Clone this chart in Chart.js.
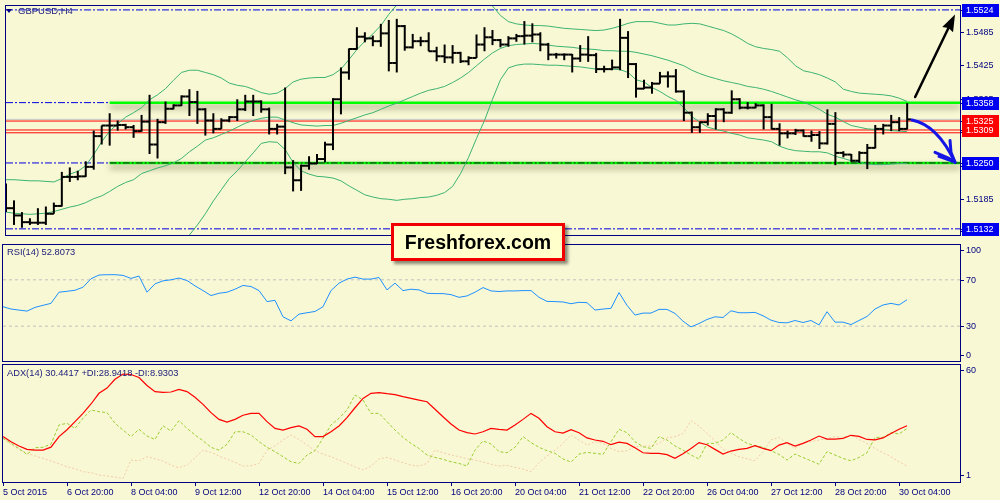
<!DOCTYPE html>
<html><head><meta charset="utf-8">
<script src="https://cdn.jsdelivr.net/npm/chart.js@4.4.1/dist/chart.umd.min.js"></script>
<style>
html,body{margin:0;padding:0;}
body{width:1000px;height:500px;overflow:hidden;position:relative;background:#f8f8d4;font-family:"Liberation Sans",Arial,sans-serif;}
canvas{position:absolute;left:0;}
.txt{position:absolute;color:#1a1a7a;white-space:nowrap;line-height:1;}
#tri{position:absolute;left:6px;top:9px;width:0;height:0;border-left:3.5px solid transparent;border-right:3.5px solid transparent;border-top:4px solid #000080;}
#brand{position:absolute;left:391px;top:223px;width:168px;height:32px;border:3px solid #f00000;background:#ffffcc;box-shadow:3px 3px 3px rgba(0,0,0,0.45);font:bold 19.5px "Liberation Sans",Arial,sans-serif;color:#000;text-align:center;line-height:32px;}
</style></head><body>
<canvas id="cMain" width="1000" height="241" style="top:0"></canvas>
<canvas id="cRsi" width="1000" height="121" style="top:242px"></canvas>
<canvas id="cAdx" width="1000" height="137" style="top:363px"></canvas>
<div id="tri"></div>
<div class="txt" style="left:18px;top:6px;font-size:9.5px;">GBPUSD,H4</div>
<div class="txt" style="left:7px;top:248px;font-size:9.3px;">RSI(14) 52.8073</div>
<div class="txt" style="left:7px;top:369px;font-size:9.3px;">ADX(14) 30.4417 +DI:28.9418 -DI:8.9303</div>
<div id="brand">Freshforex.com</div>
<script>
// ---------------- DATA ----------------
const tickBars = [0,8,16,24,32,40,48,56,64,72,80,88,96,104,112];
const tickLabels = ['5 Oct 2015','6 Oct 20:00','8 Oct 04:00','9 Oct 12:00','12 Oct 20:00','14 Oct 04:00','15 Oct 12:00','16 Oct 20:00','20 Oct 04:00','21 Oct 12:00','22 Oct 20:00','26 Oct 04:00','27 Oct 12:00','28 Oct 20:00','30 Oct 04:00'];

const opens = [1.5190,1.5169,1.5156,1.5144,1.5143,1.5143,1.5159,1.5173,1.5225,1.5225,
1.5226,1.5243,1.5298,1.5317,1.5317,1.5318,1.5314,1.5307,1.5324,1.5283,
1.5323,1.5347,1.5353,1.5369,1.5359,1.5346,1.5326,1.5311,1.5326,1.5332,
1.5346,1.5360,1.5360,1.5346,1.5311,1.5315,1.5242,1.5219,1.5245,1.5249,
1.5257,1.5283,1.5364,1.5412,1.5454,1.5476,1.5473,1.5468,1.5482,1.5429,
1.5495,1.5457,1.5468,1.5468,1.5450,1.5441,1.5439,1.5447,1.5432,1.5438,
1.5462,1.5475,1.5470,1.5462,1.5473,1.5477,1.5478,1.5480,1.5462,1.5444,
1.5444,1.5444,1.5437,1.5444,1.5443,1.5418,1.5418,1.5421,1.5474,1.5427,
1.5383,1.5385,1.5392,1.5405,1.5405,1.5378,1.5340,1.5314,1.5323,1.5334,
1.5346,1.5340,1.5364,1.5349,1.5349,1.5353,1.5332,1.5311,1.5303,1.5303,
1.5308,1.5298,1.5300,1.5285,1.5320,1.5268,1.5265,1.5254,1.5268,1.5277,
1.5311,1.5317,1.5323,1.5311];
const highs = [1.5213,1.5183,1.5162,1.5151,1.5169,1.5172,1.5179,1.5234,1.5242,1.5236,
1.5253,1.5308,1.5317,1.5339,1.5326,1.5320,1.5318,1.5336,1.5372,1.5329,
1.5360,1.5355,1.5371,1.5382,1.5379,1.5348,1.5339,1.5330,1.5334,1.5364,
1.5372,1.5372,1.5362,1.5349,1.5320,1.5385,1.5255,1.5247,1.5262,1.5266,
1.5288,1.5366,1.5421,1.5455,1.5493,1.5484,1.5478,1.5499,1.5506,1.5508,
1.5497,1.5481,1.5476,1.5484,1.5458,1.5462,1.5461,1.5449,1.5441,1.5480,
1.5493,1.5488,1.5472,1.5477,1.5481,1.5504,1.5500,1.5484,1.5465,1.5447,
1.5446,1.5445,1.5461,1.5477,1.5447,1.5424,1.5435,1.5508,1.5486,1.5429,
1.5399,1.5395,1.5413,1.5414,1.5418,1.5380,1.5342,1.5324,1.5339,1.5348,
1.5348,1.5380,1.5366,1.5359,1.5357,1.5355,1.5356,1.5321,1.5308,1.5311,
1.5310,1.5308,1.5307,1.5346,1.5341,1.5271,1.5266,1.5271,1.5284,1.5318,
1.5320,1.5336,1.5332,1.5357];
const lows = [1.5162,1.5139,1.5134,1.5139,1.5139,1.5139,1.5159,1.5172,1.5216,1.5219,
1.5225,1.5238,1.5283,1.5281,1.5308,1.5310,1.5295,1.5306,1.5266,1.5258,
1.5320,1.5346,1.5352,1.5334,1.5320,1.5299,1.5303,1.5311,1.5323,1.5325,
1.5343,1.5334,1.5340,1.5301,1.5301,1.5230,1.5199,1.5200,1.5238,1.5248,
1.5251,1.5273,1.5337,1.5399,1.5453,1.5466,1.5459,1.5458,1.5414,1.5412,
1.5451,1.5455,1.5459,1.5450,1.5432,1.5429,1.5428,1.5429,1.5425,1.5438,
1.5450,1.5461,1.5457,1.5458,1.5467,1.5462,1.5466,1.5450,1.5434,1.5437,
1.5434,1.5412,1.5431,1.5431,1.5411,1.5412,1.5416,1.5416,1.5402,1.5367,
1.5382,1.5374,1.5392,1.5385,1.5376,1.5325,1.5304,1.5304,1.5317,1.5310,
1.5323,1.5338,1.5346,1.5346,1.5348,1.5310,1.5310,1.5281,1.5294,1.5300,
1.5297,1.5288,1.5275,1.5283,1.5246,1.5260,1.5252,1.5250,1.5239,1.5276,
1.5301,1.5307,1.5307,1.5310];
const closes = [1.5169,1.5156,1.5144,1.5143,1.5143,1.5159,1.5173,1.5225,1.5225,1.5226,
1.5243,1.5298,1.5317,1.5317,1.5318,1.5314,1.5307,1.5324,1.5283,1.5323,
1.5347,1.5353,1.5369,1.5359,1.5346,1.5326,1.5311,1.5326,1.5332,1.5346,
1.5360,1.5360,1.5346,1.5311,1.5315,1.5242,1.5219,1.5245,1.5249,1.5257,
1.5283,1.5364,1.5412,1.5454,1.5476,1.5473,1.5468,1.5482,1.5429,1.5495,
1.5457,1.5468,1.5468,1.5450,1.5441,1.5439,1.5447,1.5432,1.5438,1.5462,
1.5475,1.5470,1.5462,1.5473,1.5477,1.5478,1.5480,1.5462,1.5444,1.5444,
1.5444,1.5437,1.5444,1.5443,1.5418,1.5418,1.5421,1.5474,1.5427,1.5383,
1.5385,1.5392,1.5405,1.5405,1.5378,1.5340,1.5314,1.5323,1.5334,1.5346,
1.5340,1.5364,1.5349,1.5349,1.5353,1.5332,1.5311,1.5303,1.5303,1.5308,
1.5298,1.5300,1.5285,1.5320,1.5268,1.5265,1.5254,1.5268,1.5277,1.5311,
1.5317,1.5323,1.5311,1.5328];

const bbUpper = [1.5220,1.5220,1.5219,1.5218,1.5218,1.5217,1.5216,1.5222,1.5230,1.5235,
1.5245,1.5265,1.5288,1.5307,1.5320,1.5332,1.5340,1.5349,1.5363,1.5372,
1.5383,1.5398,1.5412,1.5416,1.5416,1.5412,1.5408,1.5402,1.5393,1.5389,
1.5387,1.5382,1.5376,1.5373,1.5375,1.5383,1.5395,1.5400,1.5402,1.5403,
1.5403,1.5408,1.5418,1.5435,1.5453,1.5468,1.5481,1.5496,1.5516,1.5533,
1.5542,1.5551,1.5562,1.5572,1.5575,1.5578,1.5581,1.5574,1.5565,1.5553,
1.5545,1.5531,1.5514,1.5503,1.5499,1.5497,1.5496,1.5496,1.5495,1.5493,
1.5491,1.5490,1.5489,1.5488,1.5487,1.5488,1.5491,1.5495,1.5500,1.5503,
1.5503,1.5503,1.5500,1.5497,1.5497,1.5499,1.5500,1.5499,1.5495,1.5491,
1.5487,1.5481,1.5473,1.5464,1.5458,1.5455,1.5453,1.5450,1.5438,1.5424,
1.5415,1.5412,1.5408,1.5402,1.5395,1.5382,1.5378,1.5375,1.5374,1.5373,
1.5372,1.5370,1.5366,1.5360];
const bbMiddle = [1.5162,1.5160,1.5159,1.5158,1.5159,1.5160,1.5163,1.5167,1.5171,1.5174,
1.5179,1.5186,1.5191,1.5199,1.5208,1.5215,1.5220,1.5231,1.5236,1.5241,
1.5245,1.5250,1.5258,1.5270,1.5280,1.5291,1.5295,1.5301,1.5307,1.5314,
1.5321,1.5326,1.5330,1.5332,1.5332,1.5327,1.5322,1.5318,1.5317,1.5316,
1.5317,1.5317,1.5321,1.5326,1.5331,1.5336,1.5340,1.5346,1.5352,1.5357,
1.5363,1.5369,1.5375,1.5380,1.5383,1.5387,1.5394,1.5402,1.5412,1.5424,
1.5436,1.5447,1.5455,1.5460,1.5462,1.5463,1.5464,1.5463,1.5461,1.5459,
1.5458,1.5457,1.5455,1.5454,1.5453,1.5451,1.5451,1.5450,1.5450,1.5448,
1.5445,1.5442,1.5438,1.5434,1.5429,1.5424,1.5416,1.5410,1.5405,1.5401,
1.5397,1.5394,1.5391,1.5387,1.5385,1.5382,1.5378,1.5373,1.5368,1.5363,
1.5359,1.5353,1.5346,1.5337,1.5332,1.5324,1.5317,1.5314,1.5311,1.5310,
1.5310,1.5308,1.5307,1.5306];
const bbLower = [1.5103,1.5103,1.5101,1.5100,1.5101,1.5104,1.5109,1.5113,1.5113,1.5113,
1.5113,1.5106,1.5095,1.5091,1.5095,1.5098,1.5101,1.5113,1.5110,1.5111,
1.5107,1.5102,1.5104,1.5121,1.5139,1.5159,1.5182,1.5202,1.5222,1.5236,
1.5252,1.5268,1.5285,1.5288,1.5287,1.5274,1.5251,1.5236,1.5230,1.5226,
1.5225,1.5223,1.5218,1.5209,1.5201,1.5193,1.5189,1.5186,1.5185,1.5183,
1.5185,1.5186,1.5188,1.5189,1.5192,1.5197,1.5208,1.5231,1.5260,1.5294,
1.5326,1.5364,1.5399,1.5420,1.5425,1.5427,1.5427,1.5426,1.5425,1.5425,
1.5424,1.5423,1.5422,1.5420,1.5418,1.5418,1.5418,1.5417,1.5412,1.5399,
1.5395,1.5385,1.5378,1.5369,1.5362,1.5349,1.5333,1.5323,1.5314,1.5310,
1.5307,1.5303,1.5300,1.5295,1.5293,1.5291,1.5288,1.5280,1.5275,1.5272,
1.5271,1.5270,1.5270,1.5268,1.5262,1.5258,1.5254,1.5251,1.5248,1.5247,
1.5247,1.5248,1.5249,1.5249];

const rsi = [46.8,44.8,43.9,43.0,46.2,48.0,49.7,59.3,60.1,61.0,
63.6,70.9,74.1,74.4,74.4,73.8,71.2,73.2,59.3,66.5,
69.1,70.0,71.5,69.4,64.8,60.7,56.4,58.4,59.3,61.9,
65.1,64.2,60.7,51.2,52.3,38.1,34.6,40.4,41.6,42.7,
46.8,60.7,67.1,70.6,72.3,70.6,70.6,72.0,61.3,67.1,
60.7,61.9,61.3,58.4,58.1,58.1,57.2,54.9,56.1,59.3,
63.3,60.4,59.9,60.4,60.4,60.7,60.7,54.9,51.4,51.2,
50.9,49.4,50.6,50.3,43.9,44.8,45.4,59.0,48.0,39.6,
41.3,41.3,44.5,44.5,41.0,34.3,29.4,32.3,35.8,38.1,
37.5,43.3,41.6,41.6,41.9,39.0,35.2,33.2,32.9,34.9,
33.2,34.9,31.1,42.5,33.5,33.5,31.4,34.9,38.4,44.8,
48.3,49.7,48.3,52.8];
const rsiLevels = [70, 30];

const adx = [24.6,21.9,19.6,17.8,17.4,17.4,19.0,24.6,28.3,32.6,
37.0,42.0,47.7,50.5,55.2,58.0,57.7,56.1,51.9,48.6,
48.2,48.4,49.8,48.6,45.6,41.8,37.4,33.8,32.4,33.8,
36.0,37.0,37.0,32.6,29.0,28.1,29.4,30.3,28.5,24.6,
24.6,27.2,30.3,34.7,40.0,45.0,47.7,48.1,47.5,47.0,
45.9,45.0,44.1,43.2,39.2,35.2,31.3,28.1,26.7,26.0,
27.2,29.0,28.5,28.1,30.8,33.8,37.0,34.4,29.9,27.2,
26.5,28.3,26.7,23.9,22.8,22.1,20.3,21.7,21.0,18.7,
16.0,15.7,15.7,15.0,13.0,15.5,18.3,21.4,20.3,17.8,
15.3,16.9,17.8,18.3,19.8,18.3,17.1,20.1,21.4,19.6,
21.0,22.8,24.9,23.3,23.3,23.7,25.3,24.7,23.1,22.9,
23.9,26.3,28.5,30.44];
const plusDI = [23.7,21.0,18.2,15.1,18.7,18.9,20.6,30.8,31.7,29.0,
34.4,38.8,37.9,37.4,31.7,28.1,24.6,28.5,24.9,23.1,
30.4,27.6,33.1,29.0,25.5,22.4,18.9,17.4,20.5,27.2,
27.2,25.5,21.9,18.9,16.6,13.9,11.2,10.3,14.8,17.1,
23.7,30.8,34.4,38.8,46.8,44.1,37.0,37.0,32.6,28.1,
24.2,21.0,18.3,14.8,13.5,12.5,11.2,10.3,8.9,17.4,
22.3,20.7,16.6,16.0,18.9,24.6,21.4,18.9,17.1,15.7,
12.7,11.0,15.3,16.2,15.7,15.1,21.9,28.5,26.7,21.9,
19.2,18.3,24.6,22.8,19.6,17.4,14.8,12.7,21.0,21.0,
22.8,26.7,23.7,21.0,19.8,18.9,17.1,15.1,12.1,15.3,
13.5,11.7,9.9,16.6,14.8,13.0,11.7,13.5,16.0,24.2,
24.2,26.7,26.0,28.94];
const minusDI = [23.7,20.5,17.8,15.7,14.3,13.0,11.6,10.1,8.5,7.5,
5.9,5.4,4.1,3.6,3.0,2.3,12.1,11.7,13.9,12.8,
11.6,9.4,8.0,9.4,13.3,17.4,16.2,14.3,12.5,10.9,
8.9,9.1,10.3,17.4,19.6,22.8,25.5,23.1,20.1,17.1,
15.3,13.9,12.1,10.3,8.5,6.8,8.9,12.7,13.5,12.1,
10.7,9.4,8.9,10.3,17.4,16.0,14.8,13.9,12.8,12.1,
11.0,9.9,8.9,9.3,8.2,7.3,5.9,10.7,14.3,17.4,
21.0,25.5,22.8,20.1,21.9,21.0,18.3,16.6,17.1,19.2,
19.6,19.6,21.0,23.9,24.6,26.3,33.1,30.3,26.3,22.4,
17.8,15.7,13.9,12.8,11.7,16.6,22.8,24.2,21.0,18.3,
21.0,21.9,22.8,23.5,24.6,24.2,25.5,23.1,21.0,18.3,
16.0,13.9,11.2,8.93];

// horizontal levels (price)
const blueLevels = [1.5524, 1.5358, 1.5250, 1.5132];
const greenLevels = [1.5358, 1.5250];
const greenStartBar = 13;
const redLevels = [1.5325, 1.5309, 1.5304];
const plainPriceLabels = [1.5485, 1.5425, 1.5365, 1.5305, 1.5245, 1.5185, 1.5125];
const bluePriceLabels = [1.5524, 1.5358, 1.5250, 1.5132];
const redPriceLabels = [1.5325, 1.5309];
const rsiAxisLabels = [100, 70, 30, 0];
const adxAxisLabels = [60, 1];

// annotation arrows (data space)
const arrowUp = {from:{x:114, y:1.5368}, to:{x:119, y:1.5516}};
const arrowDown = {from:{x:113.6, y:1.5327}, ctrl:{x:116.8, y:1.5318}, to:{x:119.0, y:1.5251}};

// ---------------- LAYOUT / STYLE ----------------
const X_MIN = 0, X_MAX = 119.625;
const NAVY = '#000080';
const AX_FONT = '9px "Liberation Sans", Arial, sans-serif';
const pts = arr => arr.map((v, i) => ({x: i, y: v}));
const hline = (v, x0 = X_MIN, x1 = X_MAX) => [{x: x0, y: v}, {x: x1, y: v}];
const rightAxis = (min, max) => ({type: 'linear', position: 'right', min, max,
  ticks: {display: false}, grid: {display: false}, border: {display: false},
  afterFit: s => { s.width = 40; }});
const hiddenX = {type: 'linear', min: X_MIN, max: X_MAX, display: false, offset: false};

const framePlugin = {id: 'frame', afterDraw(chart) {
  const {ctx, chartArea: a} = chart;
  ctx.save(); ctx.strokeStyle = NAVY; ctx.lineWidth = 1;
  ctx.strokeRect(a.left - 0.5, a.top - 0.5, a.right - a.left + 1, a.bottom - a.top + 1);
  ctx.restore();
}};
const axisLabelPlugin = {id: 'axisLabels', afterDraw(chart, args, opts) {
  const {ctx, chartArea: a} = chart; const s = chart.scales.y;
  const items = (opts.items || []).map(it => {
    let y = s.getPixelForValue(it.v);
    y = Math.round(Math.min(Math.max(y, a.top + (opts.padTop || 0)), a.bottom - (opts.padBottom || 0)));
    return Object.assign({y}, it);
  });
  ctx.save(); ctx.font = AX_FONT; ctx.textBaseline = 'middle'; ctx.textAlign = 'left';
  ctx.strokeStyle = NAVY; ctx.lineWidth = 1;
  // pass 1: ticks + plain labels
  for (const it of items) {
    ctx.beginPath(); ctx.moveTo(a.right, it.y + 0.5); ctx.lineTo(a.right + 4, it.y + 0.5); ctx.stroke();
    if (!it.bg) { ctx.fillStyle = NAVY; ctx.fillText(it.text, a.right + 6, it.y + 1); }
  }
  // pass 2: label boxes
  for (const it of items) if (it.bg) { ctx.fillStyle = it.bg; ctx.fillRect(a.right + 2, it.y - 6, 37, 13); }
  // pass 3: box texts
  ctx.fillStyle = '#ffffff';
  for (const it of items) if (it.bg) ctx.fillText(it.text, a.right + 6, it.y + 1);
  ctx.restore();
}};
const shadowPlugin = {id: 'shadow',
  beforeDatasetDraw(chart, args) { const ds = chart.data.datasets[args.index];
    if (ds.shadow) { const c = chart.ctx; c.save(); c.shadowColor = 'rgba(40,40,0,0.55)'; c.shadowBlur = 6; c.shadowOffsetY = 4; } },
  afterDatasetDraw(chart, args) { if (chart.data.datasets[args.index].shadow) chart.ctx.restore(); }
};
const arrowPlugin = {id: 'arrows', afterDatasetsDraw(chart) {
  const {ctx} = chart; const xs = chart.scales.x, ys = chart.scales.y;
  const P = p => [xs.getPixelForValue(p.x), ys.getPixelForValue(p.y)];
  ctx.save();
  const [x0, y0] = P(arrowUp.from), [x1, y1] = P(arrowUp.to);
  const ang = Math.atan2(y1 - y0, x1 - x0);
  const hl = 17, hw = 6;
  const bx = x1 - hl * Math.cos(ang), by = y1 - hl * Math.sin(ang);
  ctx.strokeStyle = '#000'; ctx.fillStyle = '#000'; ctx.lineWidth = 2.5; ctx.lineCap = 'round';
  ctx.beginPath(); ctx.moveTo(x0, y0); ctx.lineTo(bx + 3 * Math.cos(ang), by + 3 * Math.sin(ang)); ctx.stroke();
  ctx.beginPath(); ctx.moveTo(x1, y1);
  ctx.lineTo(bx + hw * Math.sin(ang), by - hw * Math.cos(ang));
  ctx.lineTo(bx + 2 * Math.cos(ang), by + 2 * Math.sin(ang));
  ctx.lineTo(bx - hw * Math.sin(ang), by + hw * Math.cos(ang));
  ctx.closePath(); ctx.fill();
  const [a0, b0] = P(arrowDown.from), [ac, bc] = P(arrowDown.ctrl), [a1, b1] = P(arrowDown.to);
  ctx.strokeStyle = '#1515e6'; ctx.lineWidth = 3; ctx.lineJoin = 'round';
  ctx.beginPath(); ctx.moveTo(a0, b0); ctx.quadraticCurveTo(ac, bc, a1, b1); ctx.stroke();
  ctx.beginPath();
  ctx.moveTo(a1 - 20, b1 - 10); ctx.lineTo(a1 - 6, b1 - 4); ctx.lineTo(a1, b1);
  ctx.lineTo(a1 - 4, b1 - 10); ctx.lineTo(a1 - 5, b1 - 22);
  ctx.moveTo(a1 - 16, b1 - 6); ctx.lineTo(a1 - 2, b1 - 1);
  ctx.stroke();
  ctx.restore();
}};

// ---------------- MAIN CHART ----------------
const mainDatasets = [];
mainDatasets.push({type: 'bar', data: highs.map((h, i) => ({x: i, y: [lows[i], h]})),
  backgroundColor: '#000000', borderWidth: 0, barThickness: 2, inflateAmount: 0, order: 0});
mainDatasets.push({type: 'line', data: opens.map((v, i) => ({x: i - 0.25, y: v})), showLine: false,
  pointStyle: 'line', pointRadius: 2, pointBorderWidth: 2, borderColor: '#000', order: 0});
mainDatasets.push({type: 'line', data: closes.map((v, i) => ({x: i + 0.25, y: v})), showLine: false,
  pointStyle: 'line', pointRadius: 2, pointBorderWidth: 2, borderColor: '#000', order: 0});
for (const band of [bbUpper, bbMiddle, bbLower]) {
  mainDatasets.push({type: 'line', data: pts(band), borderColor: '#3cb371', borderWidth: 1,
    pointRadius: 0, tension: 0, order: 1});
}
mainDatasets.push({type: 'line', data: hline(greenLevels[1], greenStartBar), borderColor: '#1a1a1a', borderWidth: 1,
  borderDash: [7, 2, 2, 2], pointRadius: 0, order: 2});
for (const v of greenLevels) {
  mainDatasets.push({type: 'line', data: hline(v, greenStartBar), borderColor: '#00ff00', borderWidth: 2.5,
    pointRadius: 0, order: 3, shadow: true});
}
for (const v of blueLevels) {
  mainDatasets.push({type: 'line', data: hline(v), borderColor: '#0000e0', borderWidth: 1,
    borderDash: [7, 2, 2, 2], pointRadius: 0, order: 4});
}
for (const v of redLevels) {
  mainDatasets.push({type: 'line', data: hline(v), borderColor: '#ff0000', borderWidth: 1, pointRadius: 0, order: 5});
}
mainDatasets.push({type: 'line', data: hline(closes[closes.length - 1]), borderColor: '#c8c8c8', borderWidth: 1, pointRadius: 0, order: 6});

const mainItems = [
  ...plainPriceLabels.map(v => ({v, text: v.toFixed(4)})),
  ...bluePriceLabels.map(v => ({v, text: v.toFixed(4), bg: '#0000f0'})),
  ...redPriceLabels.map(v => ({v, text: v.toFixed(4), bg: '#ff0000'}))
];

Chart.defaults.font.family = '"Liberation Sans", Arial, sans-serif';

new Chart(document.getElementById('cMain'), {
  type: 'line',
  data: {datasets: mainDatasets},
  options: {responsive: false, animation: false, events: [],
    layout: {padding: {left: 3, top: 3, bottom: 1, right: 0}},
    scales: {x: hiddenX, y: rightAxis(1.5121, 1.5531)},
    plugins: {legend: {display: false}, tooltip: {enabled: false},
      axisLabels: {items: mainItems, padTop: 3, padBottom: 4}}},
  plugins: [shadowPlugin, framePlugin, arrowPlugin, axisLabelPlugin]
});

// ---------------- RSI ----------------
const rsiDatasets = [{type: 'line', data: pts(rsi), borderColor: '#1e90ff', borderWidth: 1, pointRadius: 0, tension: 0, order: 0}];
for (const v of rsiLevels) rsiDatasets.push({type: 'line', data: hline(v), borderColor: '#c0c0c0', borderWidth: 1,
  borderDash: [3, 3], pointRadius: 0, order: 1});
new Chart(document.getElementById('cRsi'), {
  type: 'line',
  data: {datasets: rsiDatasets},
  options: {responsive: false, animation: false, events: [],
    layout: {padding: {left: 3, top: 3, bottom: 2, right: 0}},
    scales: {x: hiddenX, y: rightAxis(0, 100)},
    plugins: {legend: {display: false}, tooltip: {enabled: false},
      axisLabels: {items: rsiAxisLabels.map(v => ({v, text: String(v)})), padTop: 5, padBottom: 6}}},
  plugins: [framePlugin, axisLabelPlugin]
});

// ---------------- ADX ----------------
new Chart(document.getElementById('cAdx'), {
  type: 'line',
  data: {datasets: [
    {data: pts(adx), borderColor: '#ff0000', borderWidth: 1.2, pointRadius: 0, tension: 0, order: 0},
    {data: pts(plusDI), borderColor: '#9acd32', borderWidth: 1, borderDash: [3, 2], pointRadius: 0, tension: 0, order: 1},
    {data: pts(minusDI), borderColor: '#f5c9a8', borderWidth: 1, borderDash: [2, 2], pointRadius: 0, tension: 0, order: 2}
  ]},
  options: {responsive: false, animation: false, events: [],
    layout: {padding: {left: 3, top: 2, bottom: 0, right: 0}},
    scales: {
      x: {type: 'linear', min: X_MIN, max: X_MAX, offset: false, position: 'bottom',
        afterBuildTicks: s => { s.ticks = tickBars.map(v => ({value: v})); },
        afterFit: s => { s.height = 18; s.paddingLeft = 0; s.paddingRight = 0; },
        ticks: {autoSkip: false, maxRotation: 0, minRotation: 0, align: 'start', padding: 1,
          color: NAVY, font: {size: 9},
          callback: v => { const k = tickBars.indexOf(v); return k >= 0 ? tickLabels[k] : ''; }},
        grid: {drawOnChartArea: false, drawTicks: true, tickLength: 4, color: NAVY},
        border: {display: false}},
      y: rightAxis(0.4, 62.8)
    },
    plugins: {legend: {display: false}, tooltip: {enabled: false},
      axisLabels: {items: adxAxisLabels.map(v => ({v, text: String(v)})), padTop: 5, padBottom: 7}}},
  plugins: [framePlugin, axisLabelPlugin]
});
</script>
</body></html>
